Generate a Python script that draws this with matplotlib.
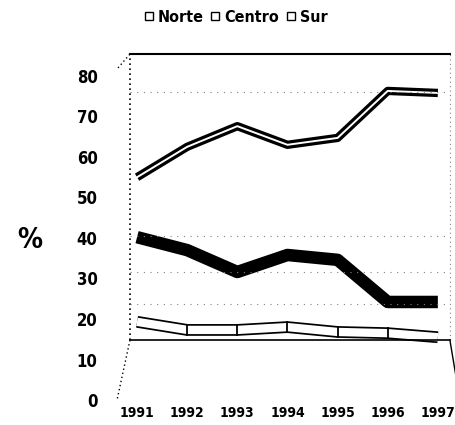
import matplotlib.pyplot as plt
from matplotlib.lines import Line2D

years = [1991, 1992, 1993, 1994, 1995, 1996, 1997]
norte = [55.0, 62.5, 67.6, 63.0, 64.7, 76.3, 75.8]
centro = [40.2, 37.0, 31.6, 35.8, 34.6, 24.2, 24.2]
sur = [19.3, 17.3, 17.3, 18.0, 16.8, 16.5, 15.5]
yticks = [0, 10, 20, 30, 40, 50, 60, 70, 80]
series_names = ['Norte', 'Centro', 'Sur']

plt.rcParams['font.family'] = ['DejaVu Sans']
plt.rcParams['font.weight'] = 'bold'
plt.rcParams['font.stretch'] = 'condensed'

fig = plt.figure(figsize=(4.56, 4.25), dpi=100)
ax = fig.add_axes([0.2566, 0.0588, 0.730, 0.814])

# Norte: hollow ribbon
ax.plot(years, norte, color='black', lw=6, solid_joinstyle='round', solid_capstyle='butt')
ax.plot(years, norte, color='white', lw=1.4, solid_joinstyle='round')
# Centro: solid thick ribbon
ax.plot(years, centro, color='black', lw=9, solid_joinstyle='round', solid_capstyle='butt')
# Sur: outlined flat ribbon
ax.plot(years, sur, color='black', lw=8.5, solid_capstyle='butt')
ax.plot(years, sur, color='white', lw=6, solid_capstyle='butt')
ax.plot(years[1:-1], sur[1:-1], ls='none', marker='|', ms=8, mew=1.3, color='black')

ax.set_xlim(1990.6, 1997.24)
ax.set_ylim(0, 85.4)
ax.set_yticks(yticks)
ax.set_xticks(years)
ax.tick_params(axis='y', length=0, labelsize=12, pad=14)
ax.tick_params(axis='x', length=0, pad=4, labelsize=10)

for s in ax.spines.values():
    s.set_visible(False)

# frame of the chart box
x0 = 0.039
floor = 14.8
ax.plot([x0, x0], [floor / 85.4, 1], transform=ax.transAxes, color='black',
        ls=(0, (1, 2)), lw=1.2, clip_on=False)
ax.plot([x0, 1], [1, 1], transform=ax.transAxes, color='black', lw=1.5, clip_on=False)
ax.plot([1, 1], [floor / 85.4, 1], transform=ax.transAxes, color='gray',
        ls=(0, (1, 3)), lw=0.8, clip_on=False)
ax.plot([x0, 1], [floor / 85.4, floor / 85.4], transform=ax.transAxes,
        color='black', lw=1.2, clip_on=False)
ax.plot([x0, 0.0], [floor / 85.4, 0.0], transform=ax.transAxes, color='black',
        ls=(0, (1, 2)), lw=1.0, clip_on=False)
ax.plot([1, 1.018], [floor / 85.4, 0.07], transform=ax.transAxes, color='black',
        lw=1.0, clip_on=False)
ax.plot([x0 - 0.036, x0], [0.96, 1], transform=ax.transAxes, color='black',
        ls=(0, (1, 2)), lw=1.0, clip_on=False)
for g in [23.7, 31.6, 40.5, 76]:
    ax.plot([x0, 1], [g / 85.4, g / 85.4], transform=ax.transAxes, color='gray',
            ls=(0, (1, 5)), lw=0.8)

fig.text(0.066, 0.435, '%', fontsize=20, ha='center', va='center', fontweight='bold')

handles = [Line2D([], [], ls='none', marker='s', ms=6, mfc='white', mec='black',
                  mew=1.0) for _ in series_names]
fig.legend(handles, series_names, loc='center', bbox_to_anchor=(0.515, 0.96),
           ncol=3, frameon=False, fontsize=11.5, handletextpad=0.15,
           columnspacing=0.35, handlelength=0.8)

fig.savefig('out.png', dpi=100)
